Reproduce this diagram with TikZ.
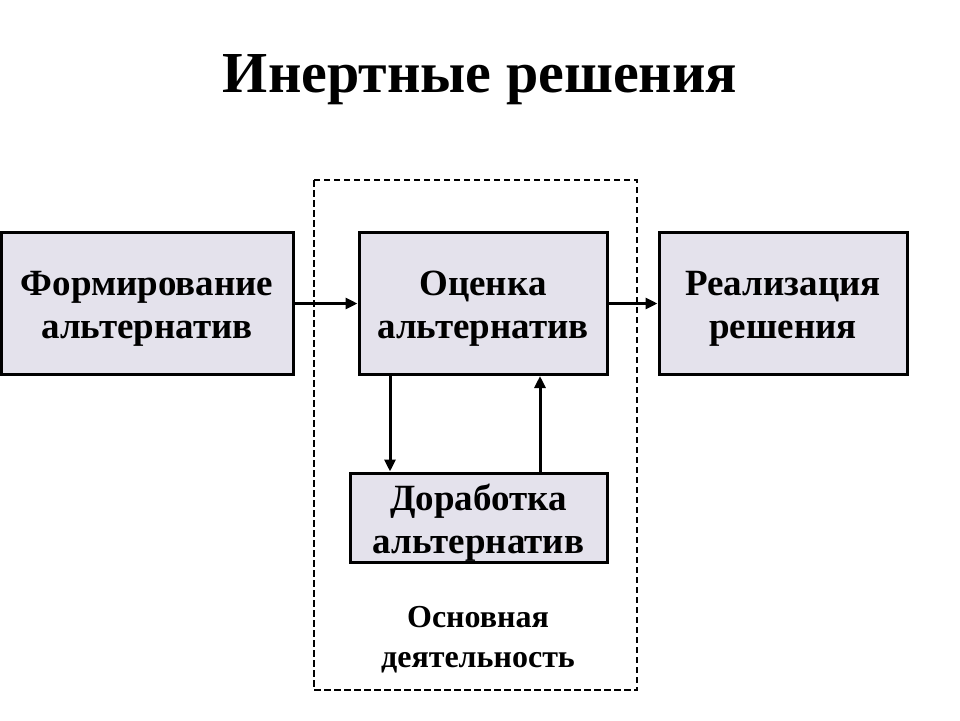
\documentclass[tikz,border=0pt]{standalone}
\usepackage{fontspec}
\setmainfont{Liberation Serif}
\usetikzlibrary{arrows.meta}
\definecolor{boxfill}{RGB}{228,226,236}
\begin{document}
\begin{tikzpicture}[x=1pt,y=-1pt,
  box/.style={draw=black, line width=3pt, fill=boxfill, inner sep=0pt},
  boxtext/.style={align=center, font=\bfseries\fontsize{37}{43}\selectfont, inner sep=0pt, yshift=-5pt},
  arr/.style={line width=3pt, -{Triangle[length=12pt,width=11pt]}},
  frame/.style={line width=2.6pt, dash pattern=on 6.5pt off 3.5pt}]
\useasboundingbox (0,0) rectangle (960,720);
\fill[white] (0,0) rectangle (960,720);
\node[font=\bfseries\fontsize{58}{64}\selectfont] (title) at (480,80) {Инертные решения};
\node[box, minimum width=292pt, minimum height=142pt] (form) at (147,303.5) {};
\node[box, minimum width=248pt, minimum height=142pt] (eval) at (483,303.5) {};
\node[box, minimum width=248pt, minimum height=142pt] (impl) at (783,303.5) {};
\node[box, minimum width=257pt, minimum height=89pt] (refine) at (478.5,517.5) {};
\node[boxtext] (formt) at (form) {Формирование\\альтернатив};
\node[boxtext] (evalt) at (eval) {Оценка\\альтернатив};
\node[boxtext] (implt) at (impl) {Реализация\\решения};
\node[boxtext] (refinet) at (refine) {Доработка\\альтернатив};
\draw[frame] (314,180) rectangle (637,690);
\node[align=center, font=\bfseries\fontsize{32}{40}\selectfont] (main) at (478,640) {Основная\\деятельность};
\coordinate (dx) at (390,0);
\coordinate (ux) at (540,0);
\draw[arr] (form.east) -- (eval.west);
\draw[arr] (eval.east) -- (impl.west);
\draw[arr] (eval.south -| dx) -- (refine.north -| dx);
\draw[arr] (refine.north -| ux) -- (eval.south -| ux);
\end{tikzpicture}
\end{document}
